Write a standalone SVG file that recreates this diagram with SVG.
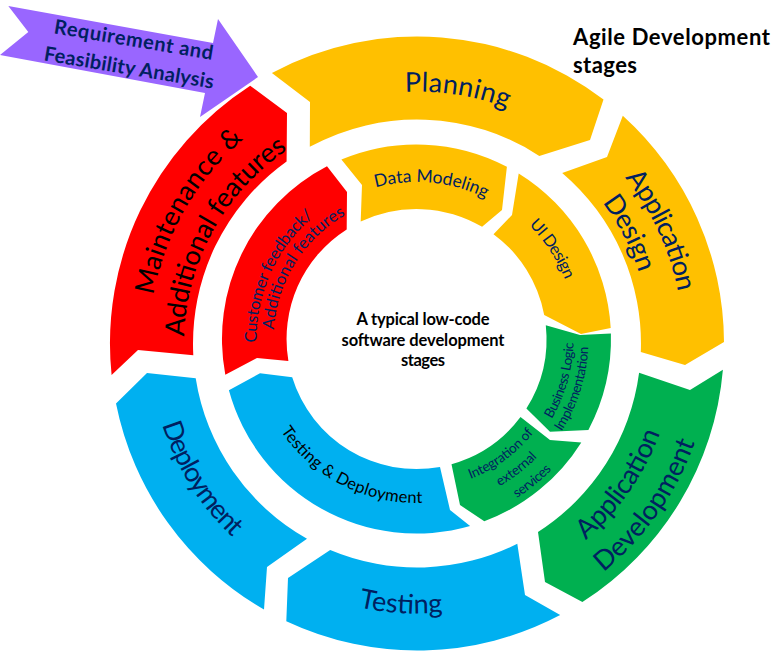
<svg xmlns="http://www.w3.org/2000/svg" width="783" height="666" viewBox="0 0 783 666">
<style>
.t{font-family:Lato,"Open Sans","Liberation Sans",sans-serif;fill:#002060}
.k{fill:#000}
.b{font-weight:bold}
.o{font-size:27px}
.m{font-size:16.5px}
.s{font-size:13.5px}
.yel{fill:#FFC000}.red{fill:#FF0000}.grn{fill:#00B050}.blu{fill:#00B0F0}.pur{fill:#9966FF}
</style>
<defs>
<path id="c252" d="M -252 0 A 252 252 0 0 1 252 0"/>
<path id="c266" d="M -266 0 A 266 266 0 0 1 266 0"/>
<path id="c233" d="M -233 0 A 233 233 0 0 1 233 0"/>
<path id="c268" d="M -268 0 A 268 268 0 0 1 268 0"/>
<path id="c157" d="M -157 0 A 157 157 0 0 1 157 0"/>
<path id="c160" d="M -160 0 A 160 160 0 0 1 160 0"/>
<path id="c143" d="M -143 0 A 143 143 0 0 1 143 0"/>
<path id="a259" d="M -259 0 A 259 259 0 0 0 259 0"/>
<path id="a295" d="M -295 0 A 295 295 0 0 0 295 0"/>
<path id="a270" d="M -270 0 A 270 270 0 0 0 270 0"/>
<path id="a267" d="M -267.5 0 A 267.5 267.5 0 0 0 267.5 0"/>
<path id="a157" d="M -157 0 A 157 157 0 0 0 157 0"/>
<path id="a172" d="M -172 0 A 172 172 0 0 0 172 0"/>
<path id="a150" d="M -150 0 A 150 150 0 0 0 150 0"/>
<path id="a169" d="M -169 0 A 169 169 0 0 0 169 0"/>
<path id="a188" d="M -188 0 A 188 188 0 0 0 188 0"/>
<path id="a164" d="M -164 0 A 164 164 0 0 0 164 0"/>
</defs>

<g id="requirement">
<path class="pur" d="M 8.3 6 L 213 43 L 218 19 L 258 77 L 200 117 L 205 93 L 0 55 L 28.3 32 Z"/>
<g transform="translate(130.3,60.5) rotate(9.5)">
<text class="t b" font-size="20" text-anchor="middle" x="0" y="-14.2" textLength="161">Requirement and</text>
<text class="t b" font-size="20" text-anchor="middle" x="0" y="14.2" textLength="172">Feasibility Analysis</text>
</g>
</g>

<g id="title">
<text class="t k b" font-size="22" x="573" y="45" textLength="197">Agile Development</text>
<text class="t k b" font-size="22" x="573" y="73" textLength="64">stages</text>
</g>

<g id="planning">
<path class="yel" d="M 271.9 72.9 A 307 307 0 0 1 603.5 99.6 L 590 140 L 539.3 155.9 A 224 224 0 0 0 309.8 146.8 L 310 102 Z"/>
<g transform="translate(417,343.5) rotate(9.1)"><text class="t o"><textPath href="#c252" startOffset="50%" text-anchor="middle" textLength="104">Planning</textPath></text></g>
</g>

<g id="app-design">
<path class="yel" d="M 622.8 115.7 A 307 307 0 0 1 724 341.9 L 685 365 L 640.8 352.1 A 224 224 0 0 0 562.2 172.9 L 607 157 Z"/>
<g transform="translate(417,343.5) rotate(65.1)"><text class="t o"><textPath href="#c266" startOffset="50%" text-anchor="middle" textLength="127">Application</textPath></text></g>
<g transform="translate(417,343.5) rotate(62.5)"><text class="t o"><textPath href="#c233" startOffset="50%" text-anchor="middle" textLength="80">Design</textPath></text></g>
</g>

<g id="app-development">
<path class="grn" d="M 722.9 369.7 A 307 307 0 0 1 582.4 602.1 L 545 582 L 538 532 A 224 224 0 0 0 639.1 372.7 L 690 390 Z"/>
<g transform="translate(417,343.5) rotate(-55.2)"><text class="t o"><textPath href="#a259" startOffset="50%" text-anchor="middle" textLength="132">Application</textPath></text></g>
<g transform="translate(417,343.5) rotate(-54.8)"><text class="t o"><textPath href="#a295" startOffset="50%" text-anchor="middle" textLength="161">Development</textPath></text></g>
</g>

<g id="testing">
<path class="blu" d="M 560.2 615.1 A 307 307 0 0 1 286.3 621.3 L 288 578 L 330.2 550 A 224 224 0 0 0 517.3 543.8 L 525 595 Z"/>
<g transform="translate(417,343.5) rotate(3.5)"><text class="t o"><textPath href="#a270" startOffset="50%" text-anchor="middle" textLength="85">Testing</textPath></text></g>
</g>

<g id="deployment">
<path class="blu" d="M 264 609.6 A 307 307 0 0 1 116 403.6 L 147 373 L 195.7 378.2 A 224 224 0 0 0 307 538.7 L 267 567 Z"/>
<g transform="translate(417,343.5) rotate(58)"><text class="t o"><textPath href="#a267" startOffset="50%" text-anchor="middle" textLength="134">Deployment</textPath></text></g>
</g>

<g id="maintenance">
<path class="red" d="M 111.6 375.1 A 307 307 0 0 1 250.2 85.7 L 287 113 L 286.6 161.4 A 224 224 0 0 0 193.3 355.2 L 138 350 Z"/>
<g transform="translate(417,343.5) rotate(300)"><text class="t k o"><textPath href="#c268" startOffset="50%" text-anchor="middle" textLength="184">Maintenance &amp;</textPath></text></g>
<g transform="translate(417,343.5) rotate(299)"><text class="t k o"><textPath href="#c233" startOffset="50%" text-anchor="middle" textLength="222">Additional features</textPath></text></g>
</g>

<g id="data-modeling">
<path class="yel" d="M 341.4 159.6 A 194.5 194.5 0 0 1 506.9 166.8 L 502 210 L 482.1 226.8 A 130 130 0 0 0 360.7 221.6 L 362 185 Z"/>
<g transform="translate(416.5,339) rotate(5.5)"><text class="t" font-size="17.5"><textPath href="#c157" startOffset="50%" text-anchor="middle" textLength="113">Data Modeling</textPath></text></g>
</g>

<g id="ui-design">
<path class="yel" d="M 518.7 173.5 A 194.5 194.5 0 0 1 610.7 328.1 L 581 334 L 544.2 314.9 A 130 130 0 0 0 493.5 234.2 L 512 215 Z"/>
<g transform="translate(416.5,339) rotate(56.4)"><text class="t m"><textPath href="#c160" startOffset="50%" text-anchor="middle" textLength="66">UI Design</textPath></text></g>
</g>

<g id="business-logic">
<path class="grn" d="M 610.9 333.6 A 194.5 194.5 0 0 1 588.4 430 L 550 431.7 L 526.4 408.5 A 130 130 0 0 0 545.8 325.2 L 580 335 Z"/>
<g transform="translate(416.5,339) rotate(-74)"><text class="t s"><textPath href="#a157" startOffset="50%" text-anchor="middle" textLength="80">Business Logic</textPath></text></g>
<g transform="translate(416.5,339) rotate(-72.4)"><text class="t s"><textPath href="#a172" startOffset="50%" text-anchor="middle" textLength="90">Implementation</textPath></text></g>
</g>

<g id="integration">
<path class="grn" d="M 581.3 442.4 A 194.5 194.5 0 0 1 484.3 521.3 L 460 505 L 451.5 464.2 A 130 130 0 0 0 520.5 417.1 L 550 440 Z"/>
<g transform="translate(416.5,339) rotate(-36.2)"><text class="t s"><textPath href="#a150" startOffset="50%" text-anchor="middle" textLength="79">Integration of</textPath></text></g>
<g transform="translate(416.5,339) rotate(-37.5)"><text class="t s"><textPath href="#a169" startOffset="50%" text-anchor="middle" textLength="48">external</textPath></text></g>
<g transform="translate(416.5,339) rotate(-39.1)"><text class="t s"><textPath href="#a188" startOffset="50%" text-anchor="middle" textLength="45">services</textPath></text></g>
</g>

<g id="testing-deployment">
<path class="blu" d="M 470.1 526 A 194.5 194.5 0 0 1 228.9 390.3 L 260 373.3 L 292.2 377.2 A 130 130 0 0 0 440 466.9 L 450 510 Z"/>
<g transform="translate(416.5,339) rotate(26.9)"><text class="t k m"><textPath href="#a164" startOffset="50%" text-anchor="middle" textLength="166">Testing &amp; Deployment</textPath></text></g>
</g>

<g id="customer-feedback">
<path class="red" d="M 225.3 374.8 A 194.5 194.5 0 0 1 327 166.3 L 347 192 L 346.7 229.4 A 130 130 0 0 0 288.4 360.9 L 257 358 Z"/>
<g transform="translate(416.5,339) rotate(294.3)"><text class="t m"><textPath href="#c160" startOffset="50%" text-anchor="middle" textLength="143">Customer feedback/</textPath></text></g>
<g transform="translate(416.5,339) rotate(302)"><text class="t m"><textPath href="#c143" startOffset="50%" text-anchor="middle" textLength="141">Additional features</textPath></text></g>
</g>

<g id="center-label">
<text class="t k b" font-size="16.5" text-anchor="middle" x="423" y="325" textLength="133">A typical low-code</text>
<text class="t k b" font-size="16.5" text-anchor="middle" x="423" y="345.5" textLength="163">software development</text>
<text class="t k b" font-size="16.5" text-anchor="middle" x="423" y="366" textLength="44">stages</text>
</g>

<g id="connectors"></g>
</svg>
